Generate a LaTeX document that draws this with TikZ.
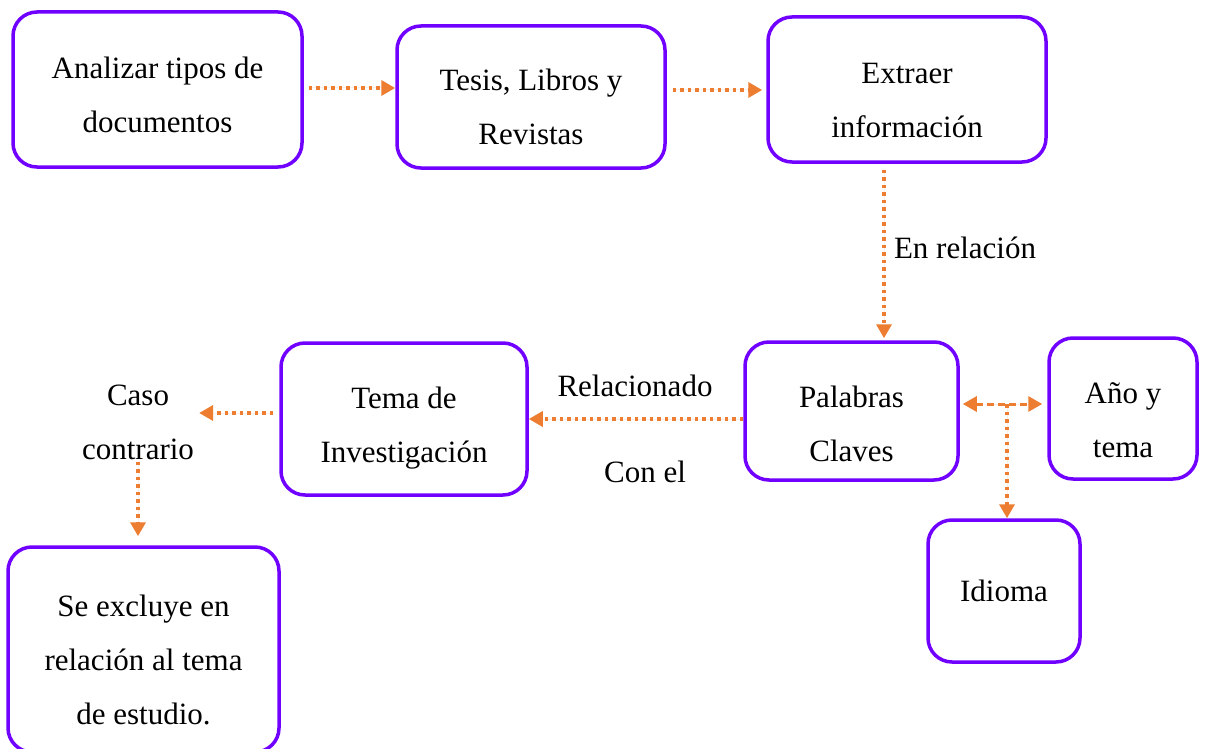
\documentclass[tikz,border=0pt]{standalone}
\usepackage{fontspec}
\setmainfont{Liberation Serif}
\usetikzlibrary{arrows.meta}
\definecolor{boxviolet}{RGB}{112,0,255}
\definecolor{arrorange}{RGB}{237,125,49}

\begin{document}
\begin{tikzpicture}[x=1pt,y=-1pt]
\tikzstyle{vertex} = [rectangle, rounded corners=24pt, draw = boxviolet, line width=3.5pt, align=center, inner sep=0pt, font=\fontsize{31}{54}\selectfont]
\tikzstyle{note} = [align=center, inner sep=2pt, font=\fontsize{31}{54}\selectfont]
\tikzstyle{edge} = [-{Triangle[length=14pt,width=15pt]}, draw=arrorange, fill=arrorange, line width=3.5pt, dash pattern=on 3.5pt off 4pt]
\tikzstyle{twoway} = [{Triangle[length=14pt,width=15pt]}-{Triangle[length=14pt,width=15pt]}, draw=arrorange, fill=arrorange, line width=3pt, dash pattern=on 7pt off 4pt]
\useasboundingbox (0,0) rectangle (1207,749);
\node[vertex, minimum width=289pt, minimum height=155pt, text height=87pt] (ana) at (157.5, 89.5) {Analizar tipos de\\documentos};
\node[vertex, minimum width=268pt, minimum height=142pt, text height=95pt] (tesis) at (531, 97) {Tesis, Libros y\\Revistas};
\node[vertex, minimum width=278pt, minimum height=145pt, text height=97pt] (extr) at (907, 89.5) {Extraer\\información};
\node[vertex, minimum width=213pt, minimum height=138pt, text height=101pt] (pal) at (851.5, 411) {Palabras\\Claves};
\node[vertex, minimum width=246pt, minimum height=152pt, text height=94pt] (tema) at (404, 419) {Tema de\\Investigación};
\node[vertex, minimum width=148pt, minimum height=141pt, text height=98pt] (ano) at (1123, 408.5) {Año y\\tema};
\node[vertex, minimum width=152pt, minimum height=142pt] (idi) at (1004, 591) {Idioma};
\node[vertex, minimum width=271pt, minimum height=205pt, text height=151pt] (excl) at (143.5, 649.5) {Se excluye en\\relación al tema\\de estudio.};
\node[note] (caso) at (138, 422) {Caso\\contrario};
\node[note] (enrel) at (965, 248) {En relación};
\node[note] (relac) at (635, 386) {Relacionado};
\node[note] (conel) at (645, 472) {Con el};
\coordinate (jn) at (1007, 404);
\draw[edge, shorten <=5pt] ([yshift=1.5pt]ana.east) -- ([yshift=1.5pt]ana.east -| tesis.west);
\draw[edge, shorten <=6pt, shorten >=4pt] ([yshift=7pt]tesis.east) -- ([yshift=7pt]tesis.east -| extr.west);
\draw[edge, shorten <=6pt, shorten >=2pt] ([xshift=-23pt]extr.south) -- ([xshift=32.5pt]pal.north);
\draw[edge] (tema.east -| pal.west) -- (tema.east);
\draw[edge, shorten <=6pt, shorten >=3pt] ([yshift=6pt]tema.west) -- ([yshift=6pt]tema.west -| caso.east);
\draw[edge, shorten >=9pt] (caso.south) -- (caso.south |- excl.north);
\draw[twoway, shorten <=3pt, shorten >=5pt] (pal.east |- jn) -- (ano.west |- jn);
\draw[edge] (jn) -- (jn |- idi.north);
\end{tikzpicture}
\end{document}
